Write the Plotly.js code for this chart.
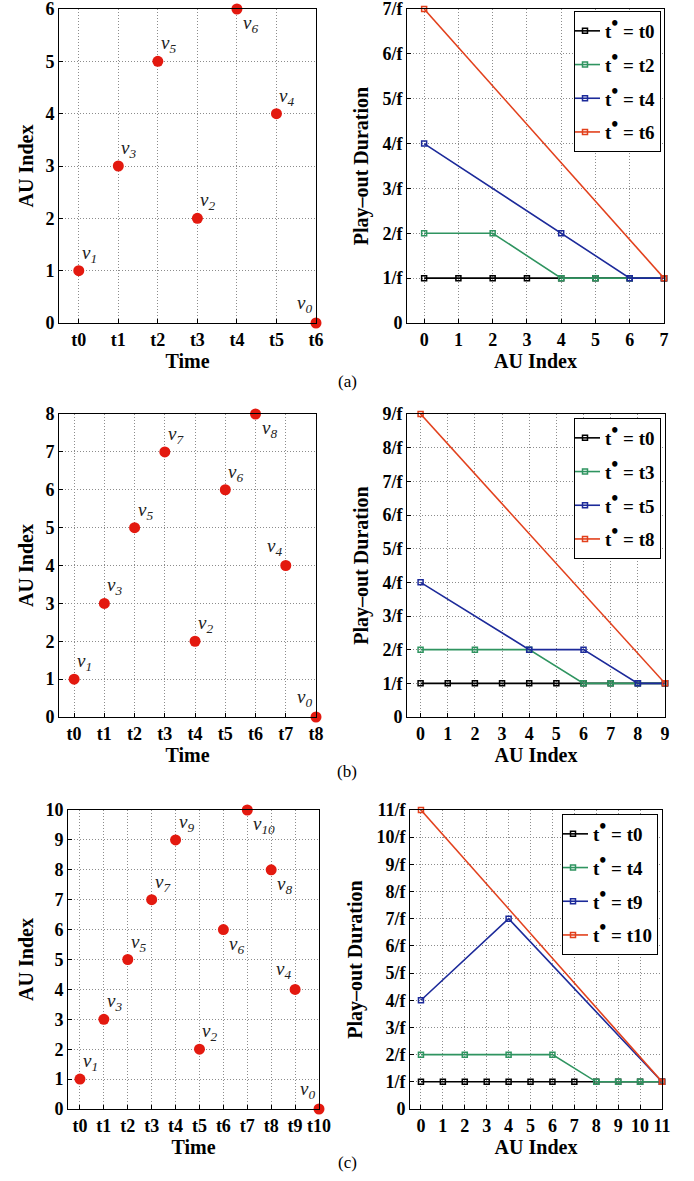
<!DOCTYPE html>
<html><head><meta charset="utf-8">
<script src="https://cdn.plot.ly/plotly-3.0.1.min.js"></script>
<style>body{margin:0;padding:0;background:#fff}#chart{width:694px;height:1181px}</style>
</head><body><div id="chart"></div>
<script>
// ---- Data: left panels (arrival order) ----
const timesA = ['t0','t1','t2','t3','t4','t5','t6'];
const auA = [1,3,5,2,6,4,0];
const timesB = ['t0','t1','t2','t3','t4','t5','t6','t7','t8'];
const auB = [1,3,5,7,2,6,8,4,0];
const timesC = ['t0','t1','t2','t3','t4','t5','t6','t7','t8','t9','t10'];
const auC = [1,3,5,7,9,2,6,10,8,4,0];

// ---- Data: right panels (play-out duration, in units of 1/f) ----
const durTicksA = ['0','1/f','2/f','3/f','4/f','5/f','6/f','7/f'];
const durTicksB = ['0','1/f','2/f','3/f','4/f','5/f','6/f','7/f','8/f','9/f'];
const durTicksC = ['0','1/f','2/f','3/f','4/f','5/f','6/f','7/f','8/f','9/f','10/f','11/f'];

const seriesNamesA = ['t0','t2','t4','t6'];
const sA_t0_x = [0,1,2,3,4,5,6,7], sA_t0_y = [1,1,1,1,1,1,1,1];
const sA_t2_x = [0,2,4,5,6,7],     sA_t2_y = [2,2,1,1,1,1];
const sA_t4_x = [0,4,6,7],         sA_t4_y = [4,2,1,1];
const sA_t6_x = [0,7],             sA_t6_y = [7,1];

const seriesNamesB = ['t0','t3','t5','t8'];
const sB_t0_x = [0,1,2,3,4,5,6,7,8,9], sB_t0_y = [1,1,1,1,1,1,1,1,1,1];
const sB_t3_x = [0,2,4,6,7,8,9],       sB_t3_y = [2,2,2,1,1,1,1];
const sB_t5_x = [0,4,6,8,9],           sB_t5_y = [4,2,2,1,1];
const sB_t8_x = [0,9],                 sB_t8_y = [9,1];

const seriesNamesC = ['t0','t4','t9','t10'];
const sC_t0_x = [0,1,2,3,4,5,6,7,8,9,10,11], sC_t0_y = [1,1,1,1,1,1,1,1,1,1,1,1];
const sC_t4_x = [0,2,4,6,8,9,10,11],         sC_t4_y = [2,2,2,2,1,1,1,1];
const sC_t9_x = [0,4,11],                    sC_t9_y = [4,7,1];
const sC_t10_x = [0,11],                     sC_t10_y = [11,1];

// ---- Styles ----
const SERIF = '"Liberation Serif", "Times New Roman", serif';
const lineColors = ['#000000','#2f9460','#1c2a9a','#e2401c'];
const dotColor = '#e3190f';
const posA = ['TR','TR','TR','TR','BR','TR','TL'];
const posB = ['TR','TR','TR','TR','TR','TR','BR','TL','TL'];
const posC = ['TR','TR','TR','TR','TR','TR','BR','BR','BR','TL','TL'];
const anchorStyle = {
  TR:{xanchor:'left', yanchor:'bottom', xshift:1, yshift:3},
  BR:{xanchor:'left', yanchor:'top', xshift:4, yshift:-1},
  TL:{xanchor:'right', yanchor:'bottom', xshift:-2, yshift:5}
};

const traces = [];
const annotations = [];
function leftPanel(times, au, pos, xa, ya) {
  traces.push({
    type:'scatter', mode:'markers', x: times, y: au,
    xaxis: xa, yaxis: ya, showlegend:false, cliponaxis:false,
    marker:{color:dotColor, size:11}
  });
  for (let i = 0; i < times.length; i++) {
    annotations.push(Object.assign({
      x: times[i], y: au[i], xref: xa, yref: ya, showarrow:false,
      text: '<i>v<sub>' + au[i] + '</sub></i>',
      font:{family:SERIF, size:19, color:'#222'}
    }, anchorStyle[pos[i]]));
  }
}
function rightPanel(names, xs, ys, xa, ya, leg) {
  for (let i = 0; i < names.length; i++) {
    traces.push({
      type:'scatter', mode:'lines+markers', x: xs[i], y: ys[i],
      xaxis: xa, yaxis: ya, legend: leg, cliponaxis:false,
      legendgroup: leg + '_' + i,
      name: 't<sup><span style="font-size:20px">\u2022</span></sup> = ' + names[i],
      line:{color:lineColors[i], width:1.6},
      marker:{symbol:'square-open', size:5, color:lineColors[i], line:{width:1.5}}
    });
  }
}
leftPanel(timesA, auA, posA, 'x', 'y');
rightPanel(seriesNamesA, [sA_t0_x,sA_t2_x,sA_t4_x,sA_t6_x], [sA_t0_y,sA_t2_y,sA_t4_y,sA_t6_y], 'x2', 'y2', 'legend');
leftPanel(timesB, auB, posB, 'x3', 'y3');
rightPanel(seriesNamesB, [sB_t0_x,sB_t3_x,sB_t5_x,sB_t8_x], [sB_t0_y,sB_t3_y,sB_t5_y,sB_t8_y], 'x4', 'y4', 'legend2');
leftPanel(timesC, auC, posC, 'x5', 'y5');
rightPanel(seriesNamesC, [sC_t0_x,sC_t4_x,sC_t9_x,sC_t10_x], [sC_t0_y,sC_t4_y,sC_t9_y,sC_t10_y], 'x6', 'y6', 'legend3');

const W = 694, H = 1181;
const dx = (a,b) => [a/W, b/W];
const dy = (top,bot) => [1-bot/H, 1-top/H];
const tickFont = {family:SERIF, size:18, color:'#000', weight:'bold'};
const titleFont = {family:SERIF, size:20, color:'#000', weight:'bold'};
function ax(extra) {
  return Object.assign({
    showline:true, mirror:true, linecolor:'#000', linewidth:1,
    ticks:'inside', ticklen:4, tickcolor:'#000',
    showgrid:true, gridcolor:'#8c8c8c', griddash:'1px,2px', gridwidth:1,
    zeroline:false, tickfont:tickFont, fixedrange:true, ticklabeloverflow:'allow'
  }, extra);
}
function rng(n) { return Array.from({length:n}, (_, i) => i); }

const legBase = {
  bgcolor:'#fff', bordercolor:'#000', borderwidth:1,
  font:{family:SERIF, size:19, color:'#000', weight:'bold'},
  xanchor:'right', yanchor:'top', itemwidth:30, tracegroupgap:6, indentation:-10
};
const capFont = {family:SERIF, size:17, color:'#000'};

const layout = {
  width:W, height:H, margin:{l:0,r:0,t:0,b:0},
  paper_bgcolor:'#fff', plot_bgcolor:'#fff',
  showlegend:true,
  // (a)
  xaxis: ax({domain:dx(59,316), anchor:'y', type:'category', range:[-0.5,6],
    title:{text:'Time', font:titleFont, standoff:0}}),
  yaxis: ax({domain:dy(9,323), anchor:'x', range:[0,6], dtick:1,
    title:{text:'AU Index', font:titleFont, standoff:6}}),
  xaxis2: ax({domain:dx(407,664), anchor:'y2', range:[-0.5,7], dtick:1,
    title:{text:'AU Index', font:titleFont, standoff:0}}),
  yaxis2: ax({domain:dy(9,323), anchor:'x2', range:[0,7], tickvals:rng(8), ticktext:durTicksA,
    title:{text:'Play\u2013out Duration', font:titleFont, standoff:8}}),
  // (b)
  xaxis3: ax({domain:dx(59,316), anchor:'y3', type:'category', range:[-0.5,8],
    title:{text:'Time', font:titleFont, standoff:0}}),
  yaxis3: ax({domain:dy(414,717), anchor:'x3', range:[0,8], dtick:1,
    title:{text:'AU Index', font:titleFont, standoff:6}}),
  xaxis4: ax({domain:dx(407,665), anchor:'y4', range:[-0.5,9], dtick:1,
    title:{text:'AU Index', font:titleFont, standoff:0}}),
  yaxis4: ax({domain:dy(414,717), anchor:'x4', range:[0,9], tickvals:rng(10), ticktext:durTicksB,
    title:{text:'Play\u2013out Duration', font:titleFont, standoff:8}}),
  // (c)
  xaxis5: ax({domain:dx(68,319), anchor:'y5', type:'category', range:[-0.5,10],
    title:{text:'Time', font:titleFont, standoff:0}}),
  yaxis5: ax({domain:dy(810,1109), anchor:'x5', range:[0,10], dtick:1,
    title:{text:'AU Index', font:titleFont, standoff:6}}),
  xaxis6: ax({domain:dx(410,662), anchor:'y6', range:[-0.5,11], dtick:1,
    title:{text:'AU Index', font:titleFont, standoff:0}}),
  yaxis6: ax({domain:dy(810,1109), anchor:'x6', range:[0,11], tickvals:rng(12), ticktext:durTicksC,
    title:{text:'Play\u2013out Duration', font:titleFont, standoff:8}}),
  legend: Object.assign({}, legBase, {x:661/W, y:1-11/H}),
  legend2: Object.assign({}, legBase, {x:661/W, y:1-418/H}),
  legend3: Object.assign({}, legBase, {x:658/W, y:1-814/H}),
  annotations: annotations.concat([
    {text:'(a)', xref:'paper', yref:'paper', x:347/W, y:1-381/H, yanchor:'middle', showarrow:false, font:capFont},
    {text:'(b)', xref:'paper', yref:'paper', x:347/W, y:1-771/H, yanchor:'middle', showarrow:false, font:capFont},
    {text:'(c)', xref:'paper', yref:'paper', x:347/W, y:1-1162/H, yanchor:'middle', showarrow:false, font:capFont}
  ])
};
Plotly.newPlot('chart', traces, layout, {staticPlot:true, displayModeBar:false});
</script></body></html>
